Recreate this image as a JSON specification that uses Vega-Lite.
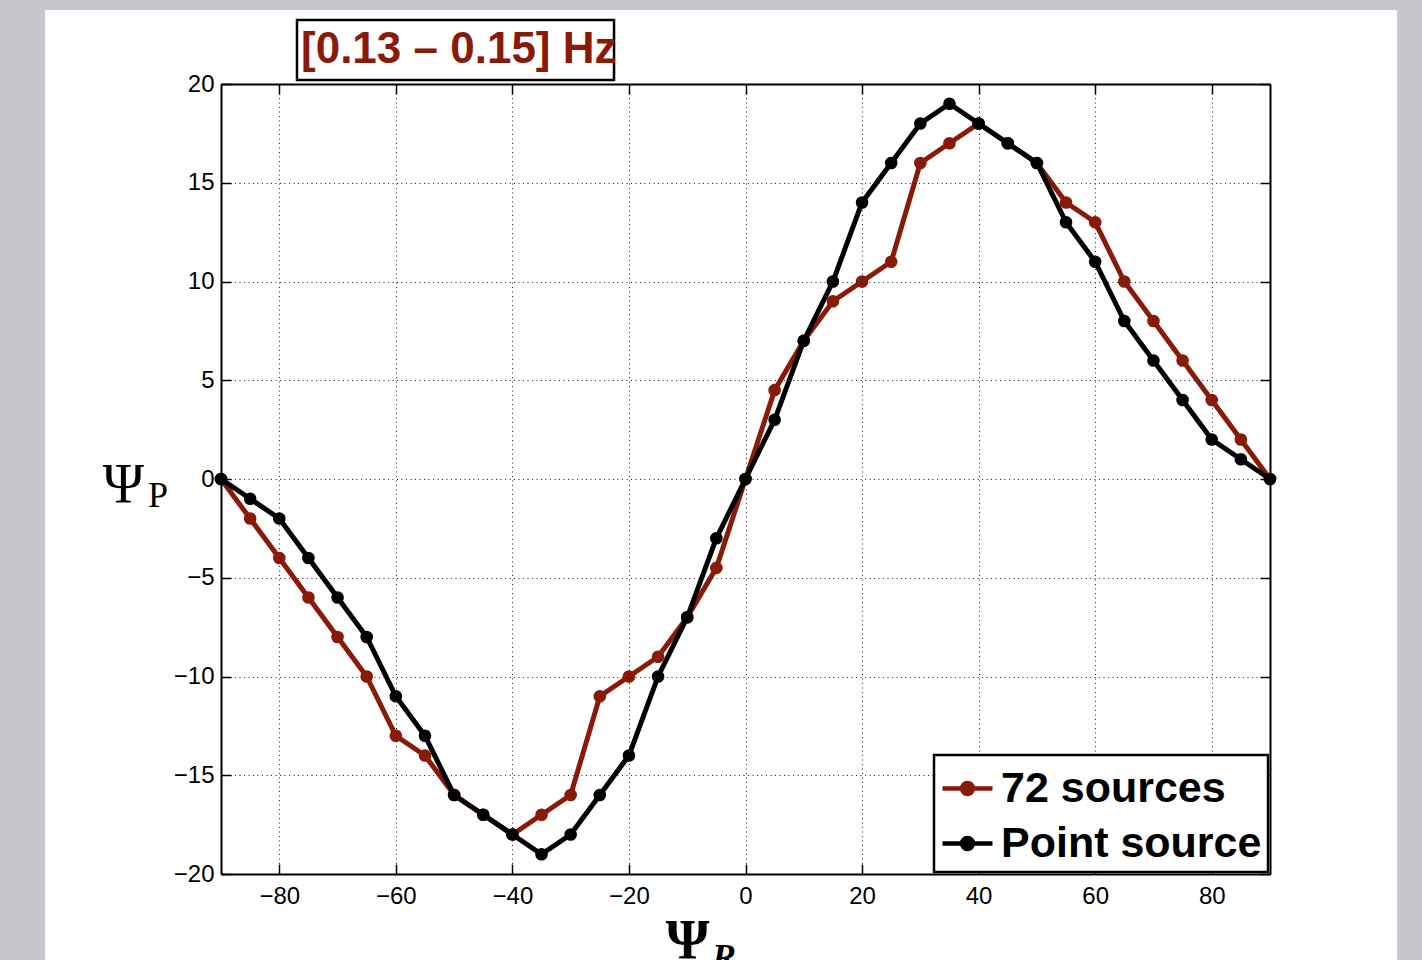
{
  "$schema": "https://vega.github.io/schema/vega-lite/v6.json",
  "width": 1049,
  "height": 790,
  "autosize": {"type": "none"},
  "padding": {"left": 221, "top": 84, "right": 152, "bottom": 86},
  "background": "#c8c6cc",
  "config": {
    "view": {"stroke": null},
    "legend": {
      "orient": "bottom-right",
      "offset": 2,
      "title": null,
      "strokeColor": "black",
      "strokeWidth": 2.5,
      "fillColor": "white",
      "padding": 6,
      "labelFont": "Liberation Sans",
      "labelFontSize": 43,
      "labelFontWeight": "bold",
      "labelColor": "black",
      "labelLimit": 500,
      "labelOffset": 6,
      "rowPadding": 5,
      "symbolType": "M-1,0H1M-0.22,0A0.22,0.22,0,1,1,0.22,0A0.22,0.22,0,1,1,-0.22,0Z",
      "symbolSize": 2500,
      "symbolStrokeWidth": 4.5,
      "zindex": 2
    }
  },
  "datasets": {
    "curves": [
      {"psi_r": -90, "psi_p": 0, "series": "72 sources"},
      {"psi_r": -85, "psi_p": -2, "series": "72 sources"},
      {"psi_r": -80, "psi_p": -4, "series": "72 sources"},
      {"psi_r": -75, "psi_p": -6, "series": "72 sources"},
      {"psi_r": -70, "psi_p": -8, "series": "72 sources"},
      {"psi_r": -65, "psi_p": -10, "series": "72 sources"},
      {"psi_r": -60, "psi_p": -13, "series": "72 sources"},
      {"psi_r": -55, "psi_p": -14, "series": "72 sources"},
      {"psi_r": -50, "psi_p": -16, "series": "72 sources"},
      {"psi_r": -45, "psi_p": -17, "series": "72 sources"},
      {"psi_r": -40, "psi_p": -18, "series": "72 sources"},
      {"psi_r": -35, "psi_p": -17, "series": "72 sources"},
      {"psi_r": -30, "psi_p": -16, "series": "72 sources"},
      {"psi_r": -25, "psi_p": -11, "series": "72 sources"},
      {"psi_r": -20, "psi_p": -10, "series": "72 sources"},
      {"psi_r": -15, "psi_p": -9, "series": "72 sources"},
      {"psi_r": -10, "psi_p": -7, "series": "72 sources"},
      {"psi_r": -5, "psi_p": -4.5, "series": "72 sources"},
      {"psi_r": 0, "psi_p": 0, "series": "72 sources"},
      {"psi_r": 5, "psi_p": 4.5, "series": "72 sources"},
      {"psi_r": 10, "psi_p": 7, "series": "72 sources"},
      {"psi_r": 15, "psi_p": 9, "series": "72 sources"},
      {"psi_r": 20, "psi_p": 10, "series": "72 sources"},
      {"psi_r": 25, "psi_p": 11, "series": "72 sources"},
      {"psi_r": 30, "psi_p": 16, "series": "72 sources"},
      {"psi_r": 35, "psi_p": 17, "series": "72 sources"},
      {"psi_r": 40, "psi_p": 18, "series": "72 sources"},
      {"psi_r": 45, "psi_p": 17, "series": "72 sources"},
      {"psi_r": 50, "psi_p": 16, "series": "72 sources"},
      {"psi_r": 55, "psi_p": 14, "series": "72 sources"},
      {"psi_r": 60, "psi_p": 13, "series": "72 sources"},
      {"psi_r": 65, "psi_p": 10, "series": "72 sources"},
      {"psi_r": 70, "psi_p": 8, "series": "72 sources"},
      {"psi_r": 75, "psi_p": 6, "series": "72 sources"},
      {"psi_r": 80, "psi_p": 4, "series": "72 sources"},
      {"psi_r": 85, "psi_p": 2, "series": "72 sources"},
      {"psi_r": 90, "psi_p": 0, "series": "72 sources"},
      {"psi_r": -90, "psi_p": 0, "series": "Point source"},
      {"psi_r": -85, "psi_p": -1, "series": "Point source"},
      {"psi_r": -80, "psi_p": -2, "series": "Point source"},
      {"psi_r": -75, "psi_p": -4, "series": "Point source"},
      {"psi_r": -70, "psi_p": -6, "series": "Point source"},
      {"psi_r": -65, "psi_p": -8, "series": "Point source"},
      {"psi_r": -60, "psi_p": -11, "series": "Point source"},
      {"psi_r": -55, "psi_p": -13, "series": "Point source"},
      {"psi_r": -50, "psi_p": -16, "series": "Point source"},
      {"psi_r": -45, "psi_p": -17, "series": "Point source"},
      {"psi_r": -40, "psi_p": -18, "series": "Point source"},
      {"psi_r": -35, "psi_p": -19, "series": "Point source"},
      {"psi_r": -30, "psi_p": -18, "series": "Point source"},
      {"psi_r": -25, "psi_p": -16, "series": "Point source"},
      {"psi_r": -20, "psi_p": -14, "series": "Point source"},
      {"psi_r": -15, "psi_p": -10, "series": "Point source"},
      {"psi_r": -10, "psi_p": -7, "series": "Point source"},
      {"psi_r": -5, "psi_p": -3, "series": "Point source"},
      {"psi_r": 0, "psi_p": 0, "series": "Point source"},
      {"psi_r": 5, "psi_p": 3, "series": "Point source"},
      {"psi_r": 10, "psi_p": 7, "series": "Point source"},
      {"psi_r": 15, "psi_p": 10, "series": "Point source"},
      {"psi_r": 20, "psi_p": 14, "series": "Point source"},
      {"psi_r": 25, "psi_p": 16, "series": "Point source"},
      {"psi_r": 30, "psi_p": 18, "series": "Point source"},
      {"psi_r": 35, "psi_p": 19, "series": "Point source"},
      {"psi_r": 40, "psi_p": 18, "series": "Point source"},
      {"psi_r": 45, "psi_p": 17, "series": "Point source"},
      {"psi_r": 50, "psi_p": 16, "series": "Point source"},
      {"psi_r": 55, "psi_p": 13, "series": "Point source"},
      {"psi_r": 60, "psi_p": 11, "series": "Point source"},
      {"psi_r": 65, "psi_p": 8, "series": "Point source"},
      {"psi_r": 70, "psi_p": 6, "series": "Point source"},
      {"psi_r": 75, "psi_p": 4, "series": "Point source"},
      {"psi_r": 80, "psi_p": 2, "series": "Point source"},
      {"psi_r": 85, "psi_p": 1, "series": "Point source"},
      {"psi_r": 90, "psi_p": 0, "series": "Point source"}
    ]
  },
  "resolve": {"axis": {"x": "independent", "y": "independent"}},
  "layer": [
    {
      "data": {"values": [{}]},
      "mark": {"type": "rect", "fill": "white", "clip": false},
      "encoding": {
        "x": {"datum": -120.2, "type": "quantitative", "scale": {"domain": [-90, 90], "nice": false, "zero": false}, "axis": null},
        "x2": {"datum": 111.8},
        "y": {"datum": 23.75, "type": "quantitative", "scale": {"domain": [-20, 20], "nice": false, "zero": false}, "axis": null},
        "y2": {"datum": -26}
      }
    },
    {
      "data": {"name": "curves"},
      "mark": {"type": "line", "strokeWidth": 5},
      "encoding": {
        "x": {
          "field": "psi_r", "type": "quantitative",
          "scale": {"domain": [-90, 90], "nice": false, "zero": false},
          "axis": {
            "orient": "bottom", "title": null, "values": [-80, -60, -40, -20, 0, 20, 40, 60, 80],
            "grid": true, "gridColor": "#222222", "gridDash": [1, 3.5], "gridWidth": 1,
            "domain": true, "domainColor": "black", "domainWidth": 2,
            "ticks": true, "tickColor": "black", "tickSize": -10, "tickWidth": 1.5,
            "labelFont": "Liberation Sans", "labelFontSize": 24, "labelColor": "black", "labelPadding": 20,
            "zindex": 1
          }
        },
        "y": {
          "field": "psi_p", "type": "quantitative",
          "scale": {"domain": [-20, 20], "nice": false, "zero": false},
          "axis": {
            "orient": "left", "title": null, "values": [-20, -15, -10, -5, 0, 5, 10, 15, 20],
            "grid": true, "gridColor": "#222222", "gridDash": [1, 3.5], "gridWidth": 1,
            "domain": true, "domainColor": "black", "domainWidth": 2,
            "ticks": true, "tickColor": "black", "tickSize": -10, "tickWidth": 1.5,
            "labelFont": "Liberation Sans", "labelFontSize": 24, "labelColor": "black", "labelPadding": 17,
            "zindex": 1
          }
        },
        "color": {
          "field": "series", "type": "nominal",
          "scale": {"domain": ["72 sources", "Point source"], "range": ["#8a1a08", "#000000"]}
        }
      }
    },
    {
      "data": {"name": "curves"},
      "mark": {"type": "point", "filled": true, "opacity": 1, "size": 160},
      "encoding": {
        "x": {"field": "psi_r", "type": "quantitative", "scale": {"domain": [-90, 90], "nice": false, "zero": false}, "axis": null},
        "y": {"field": "psi_p", "type": "quantitative", "scale": {"domain": [-20, 20], "nice": false, "zero": false}, "axis": null},
        "color": {"field": "series", "type": "nominal", "scale": {"domain": ["72 sources", "Point source"], "range": ["#8a1a08", "#000000"]}}
      }
    },
    {
      "data": {"name": "curves"},
      "mark": {"type": "point", "opacity": 0},
      "encoding": {
        "x": {
          "field": "psi_r", "type": "quantitative",
          "scale": {"domain": [-90, 90], "nice": false, "zero": false},
          "axis": {
            "orient": "top", "title": null, "values": [-80, -60, -40, -20, 0, 20, 40, 60, 80],
            "grid": false, "labels": false,
            "domain": true, "domainColor": "black", "domainWidth": 2,
            "ticks": true, "tickColor": "black", "tickSize": -10, "tickWidth": 1.5, "zindex": 1
          }
        },
        "y": {
          "field": "psi_p", "type": "quantitative",
          "scale": {"domain": [-20, 20], "nice": false, "zero": false},
          "axis": {
            "orient": "right", "title": null, "values": [-20, -15, -10, -5, 0, 5, 10, 15, 20],
            "grid": false, "labels": false,
            "domain": true, "domainColor": "black", "domainWidth": 2,
            "ticks": true, "tickColor": "black", "tickSize": -10, "tickWidth": 1.5, "zindex": 1
          }
        }
      }
    },
    {
      "data": {"values": [{}]},
      "mark": {"type": "rect", "fill": "white", "stroke": "black", "strokeWidth": 2.5, "clip": false},
      "encoding": {
        "x": {"datum": -76.96, "type": "quantitative", "scale": {"domain": [-90, 90], "nice": false, "zero": false}, "axis": null},
        "x2": {"datum": -22.56},
        "y": {"datum": 23.24, "type": "quantitative", "scale": {"domain": [-20, 20], "nice": false, "zero": false}, "axis": null},
        "y2": {"datum": 20.2}
      }
    },
    {
      "data": {"values": [{}]},
      "mark": {"type": "text", "text": "[0.13 – 0.15] Hz", "font": "Liberation Sans", "fontSize": 44, "fontWeight": "bold", "color": "#8a1a08", "align": "center", "baseline": "middle", "clip": false},
      "encoding": {
        "x": {"datum": -49.2, "type": "quantitative", "scale": {"domain": [-90, 90], "nice": false, "zero": false}, "axis": null},
        "y": {"datum": 21.72, "type": "quantitative", "scale": {"domain": [-20, 20], "nice": false, "zero": false}, "axis": null}
      }
    },
    {
      "data": {"values": [{}]},
      "mark": {"type": "text", "text": "Ψ", "font": "Liberation Serif", "fontSize": 56, "color": "black", "align": "center", "baseline": "alphabetic", "clip": false},
      "encoding": {
        "x": {"datum": -106.73, "type": "quantitative", "scale": {"domain": [-90, 90], "nice": false, "zero": false}, "axis": null},
        "y": {"datum": -1.22, "type": "quantitative", "scale": {"domain": [-20, 20], "nice": false, "zero": false}, "axis": null}
      }
    },
    {
      "data": {"values": [{}]},
      "mark": {"type": "text", "text": "P", "font": "Liberation Serif", "fontSize": 36, "color": "black", "align": "left", "baseline": "alphabetic", "clip": false},
      "encoding": {
        "x": {"datum": -102.53, "type": "quantitative", "scale": {"domain": [-90, 90], "nice": false, "zero": false}, "axis": null},
        "y": {"datum": -1.42, "type": "quantitative", "scale": {"domain": [-20, 20], "nice": false, "zero": false}, "axis": null}
      }
    },
    {
      "data": {"values": [{}]},
      "mark": {"type": "text", "text": "Ψ", "font": "Liberation Serif", "fontSize": 56, "fontWeight": "bold", "color": "black", "align": "center", "baseline": "alphabetic", "clip": false},
      "encoding": {
        "x": {"datum": -9.95, "type": "quantitative", "scale": {"domain": [-90, 90], "nice": false, "zero": false}, "axis": null},
        "y": {"datum": -24.3, "type": "quantitative", "scale": {"domain": [-20, 20], "nice": false, "zero": false}, "axis": null}
      }
    },
    {
      "data": {"values": [{}]},
      "mark": {"type": "text", "text": "R", "font": "Liberation Serif", "fontSize": 36, "fontStyle": "italic", "fontWeight": "bold", "color": "black", "align": "left", "baseline": "alphabetic", "clip": false},
      "encoding": {
        "x": {"datum": -5.75, "type": "quantitative", "scale": {"domain": [-90, 90], "nice": false, "zero": false}, "axis": null},
        "y": {"datum": -24.81, "type": "quantitative", "scale": {"domain": [-20, 20], "nice": false, "zero": false}, "axis": null}
      }
    }
  ]
}
